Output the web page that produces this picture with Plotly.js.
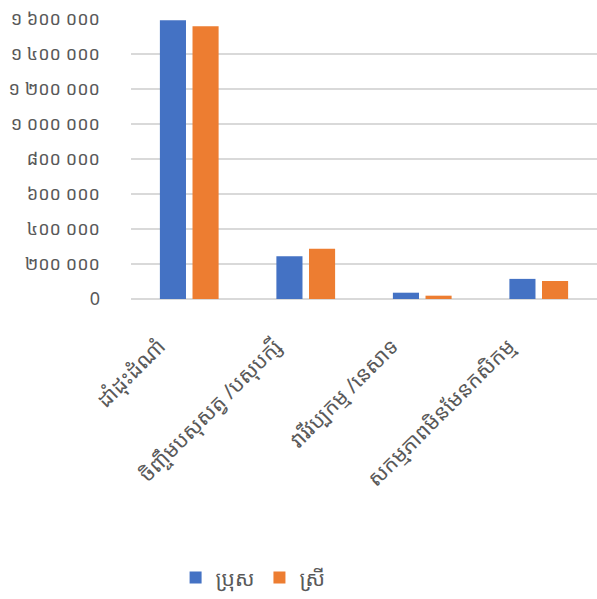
<!DOCTYPE html>
<html>
<head>
<meta charset="utf-8">
<script src="https://cdn.plot.ly/plotly-3.0.1.min.js"></script>
<style>html,body{margin:0;padding:0;background:#fff;}#chart{width:597px;height:599px;}</style>
</head>
<body>
<div id="chart"></div>
<script>
const categories = ["ដាំដុះដំណាំ", "ចិញ្ចឹមបសុសត្វ /បសុបក្សី", "វារីវប្បកម្ម /នេសាទ", "សកម្មភាពមិនមែនកសិកម្ម"];
const seriesNames = ["ប្រុស", "ស្រី"];
const male = [1593000, 244000, 36000, 115000];
const female = [1558000, 287000, 19000, 103000];
const tickValues = [0, 200000, 400000, 600000, 800000, 1000000, 1200000, 1400000, 1600000];
const tickLabels = ["0", "២០០ ០០០", "៤០០ ០០០", "៦០០ ០០០", "៨០០ ០០០", "១ ០០០ ០០០", "១ ២០០ ០០០", "១ ៤០០ ០០០", "១ ៦០០ ០០០"];

const fontFam = "'Noto Sans Khmer', 'Khmer OS', 'Noto Sans', 'DejaVu Sans', sans-serif";
const data = [
  {type: "bar", name: seriesNames[0], x: categories, y: male, marker: {color: "#4472c4"}},
  {type: "bar", name: seriesNames[1], x: categories, y: female, marker: {color: "#ed7d31"}}
];
const layout = {
  width: 597, height: 599,
  margin: {l: 131, r: 0, t: 19, b: 300},
  paper_bgcolor: "#fff", plot_bgcolor: "#fff",
  barmode: "group", bargap: 0.44, bargroupgap: 0.2,
  font: {family: fontFam, color: "#595959", size: 15},
  xaxis: {tickangle: -45, tickfont: {size: 21, color: "#595959"}, showgrid: false, showline: false, ticks: "", automargin: false,
          ticklabelstandoff: 30, ticklabelshift: -30},
  yaxis: {range: [0, 1600000], tickvals: tickValues, ticktext: tickLabels, showgrid: true, gridcolor: "#d9d9d9", gridwidth: 2,
          zeroline: true, zerolinecolor: "#d9d9d9", zerolinewidth: 2, ticks: "", ticklen: 0, tickfont: {size: 18, color: "#595959"},
          automargin: false, ticklabelstandoff: 30},
  showlegend: true,
  legend: {orientation: "h", x: 0.262, xref: "paper", xanchor: "center", y: -0.996, yanchor: "middle", font: {size: 21, color: "#595959"}, itemwidth: 30}
};
Plotly.newPlot("chart", data, layout, {displayModeBar: false, staticPlot: true});
</script>
</body>
</html>
